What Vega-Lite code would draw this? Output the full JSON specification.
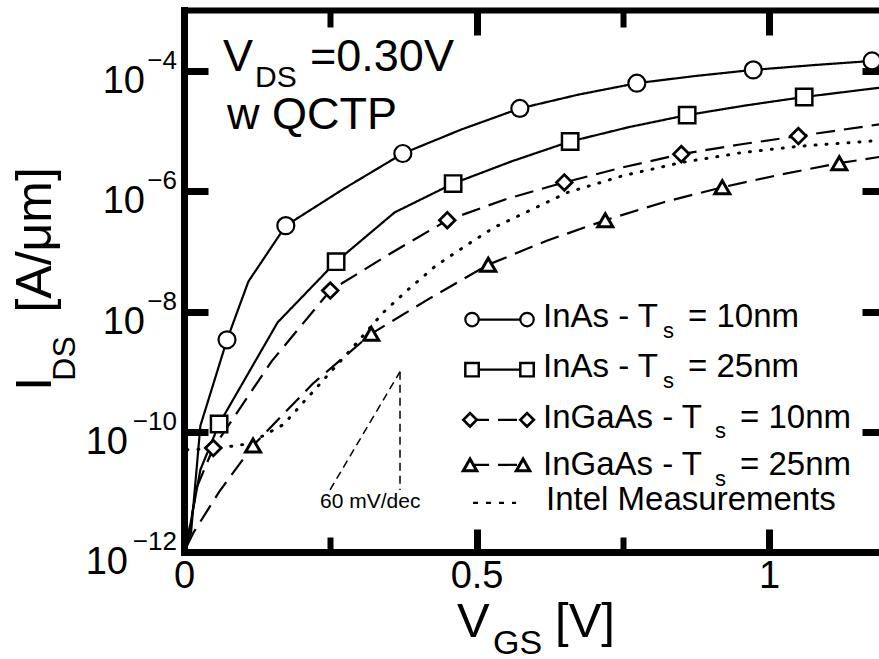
{
  "$schema": "https://vega.github.io/schema/vega-lite/v6.json",
  "width": 698,
  "height": 542,
  "autosize": {"type": "none"},
  "padding": {"left": 184, "top": 10, "right": 0, "bottom": 107},
  "background": "white",
  "config": {
    "view": {"stroke": null},
    "font": "Liberation Sans",
    "axis": {"domainColor": "black", "tickColor": "black", "labelColor": "black", "grid": false, "title": null, "domainCap": "square"}
  },
  "datasets": {
    "curves": [
      {"series": "InAs10", "v": 0.005, "I": 1.41e-12},
      {"series": "InAs10", "v": 0.012, "I": 2.1e-12},
      {"series": "InAs10", "v": 0.028, "I": 1.26e-10},
      {"series": "InAs10", "v": 0.0735, "I": 3.39e-9},
      {"series": "InAs10", "v": 0.11, "I": 3.16e-8},
      {"series": "InAs10", "v": 0.174, "I": 2.69e-7},
      {"series": "InAs10", "v": 0.274, "I": 1.12e-6},
      {"series": "InAs10", "v": 0.374, "I": 4.27e-6},
      {"series": "InAs10", "v": 0.474, "I": 1.07e-5},
      {"series": "InAs10", "v": 0.574, "I": 2.4e-5},
      {"series": "InAs10", "v": 0.674, "I": 4.07e-5},
      {"series": "InAs10", "v": 0.774, "I": 6.31e-5},
      {"series": "InAs10", "v": 0.874, "I": 8.32e-5},
      {"series": "InAs10", "v": 0.973, "I": 1.05e-4},
      {"series": "InAs10", "v": 1.075, "I": 1.26e-4},
      {"series": "InAs10", "v": 1.176, "I": 1.48e-4},
      {"series": "InAs10", "v": 1.193, "I": 1.51e-4},
      {"series": "InAs25", "v": 0.005, "I": 1.41e-12},
      {"series": "InAs25", "v": 0.028, "I": 2.34e-11},
      {"series": "InAs25", "v": 0.06, "I": 1.35e-10},
      {"series": "InAs25", "v": 0.16, "I": 6.61e-9},
      {"series": "InAs25", "v": 0.26, "I": 6.76e-8},
      {"series": "InAs25", "v": 0.36, "I": 4.47e-7},
      {"series": "InAs25", "v": 0.46, "I": 1.35e-6},
      {"series": "InAs25", "v": 0.56, "I": 3.16e-6},
      {"series": "InAs25", "v": 0.66, "I": 6.76e-6},
      {"series": "InAs25", "v": 0.76, "I": 1.17e-5},
      {"series": "InAs25", "v": 0.86, "I": 1.86e-5},
      {"series": "InAs25", "v": 0.96, "I": 2.69e-5},
      {"series": "InAs25", "v": 1.06, "I": 3.72e-5},
      {"series": "InAs25", "v": 1.193, "I": 5.37e-5},
      {"series": "InGaAs10", "v": 0.005, "I": 1.41e-12},
      {"series": "InGaAs10", "v": 0.022, "I": 1.2e-11},
      {"series": "InGaAs10", "v": 0.05, "I": 5.37e-11},
      {"series": "InGaAs10", "v": 0.15, "I": 1.5e-9},
      {"series": "InGaAs10", "v": 0.25, "I": 2.24e-8},
      {"series": "InGaAs10", "v": 0.35, "I": 8.91e-8},
      {"series": "InGaAs10", "v": 0.45, "I": 3.31e-7},
      {"series": "InGaAs10", "v": 0.55, "I": 7.41e-7},
      {"series": "InGaAs10", "v": 0.65, "I": 1.41e-6},
      {"series": "InGaAs10", "v": 0.75, "I": 2.51e-6},
      {"series": "InGaAs10", "v": 0.85, "I": 4.17e-6},
      {"series": "InGaAs10", "v": 0.95, "I": 6.03e-6},
      {"series": "InGaAs10", "v": 1.05, "I": 8.32e-6},
      {"series": "InGaAs10", "v": 1.193, "I": 1.32e-5},
      {"series": "InGaAs25", "v": 0.005, "I": 1.26e-12},
      {"series": "InGaAs25", "v": 0.016, "I": 2.09e-12},
      {"series": "InGaAs25", "v": 0.06, "I": 1.0e-11},
      {"series": "InGaAs25", "v": 0.118, "I": 5.89e-11},
      {"series": "InGaAs25", "v": 0.22, "I": 6.31e-10},
      {"series": "InGaAs25", "v": 0.32, "I": 4.27e-9},
      {"series": "InGaAs25", "v": 0.42, "I": 1.66e-8},
      {"series": "InGaAs25", "v": 0.52, "I": 6.03e-8},
      {"series": "InGaAs25", "v": 0.62, "I": 1.51e-7},
      {"series": "InGaAs25", "v": 0.72, "I": 3.31e-7},
      {"series": "InGaAs25", "v": 0.82, "I": 6.61e-7},
      {"series": "InGaAs25", "v": 0.92, "I": 1.17e-6},
      {"series": "InGaAs25", "v": 1.02, "I": 1.91e-6},
      {"series": "InGaAs25", "v": 1.12, "I": 2.95e-6},
      {"series": "InGaAs25", "v": 1.193, "I": 3.8e-6},
      {"series": "Intel", "v": 0.005, "I": 5.01e-11},
      {"series": "Intel", "v": 0.06, "I": 5.37e-11},
      {"series": "Intel", "v": 0.11, "I": 6.31e-11},
      {"series": "Intel", "v": 0.17, "I": 1.32e-10},
      {"series": "Intel", "v": 0.24, "I": 7.59e-10},
      {"series": "Intel", "v": 0.29, "I": 2.63e-9},
      {"series": "Intel", "v": 0.34, "I": 9.55e-9},
      {"series": "Intel", "v": 0.38, "I": 2.19e-8},
      {"series": "Intel", "v": 0.43, "I": 5.75e-8},
      {"series": "Intel", "v": 0.49, "I": 1.41e-7},
      {"series": "Intel", "v": 0.53, "I": 2.51e-7},
      {"series": "Intel", "v": 0.655, "I": 9.55e-7},
      {"series": "Intel", "v": 0.75, "I": 1.82e-6},
      {"series": "Intel", "v": 0.85, "I": 3.02e-6},
      {"series": "Intel", "v": 0.95, "I": 4.37e-6},
      {"series": "Intel", "v": 1.05, "I": 5.62e-6},
      {"series": "Intel", "v": 1.193, "I": 7.08e-6}
    ],
    "markers": [
      {"series": "InAs10", "v": 0.0735, "I": 3.39e-9},
      {"series": "InAs10", "v": 0.174, "I": 2.69e-7},
      {"series": "InAs10", "v": 0.374, "I": 4.27e-6},
      {"series": "InAs10", "v": 0.574, "I": 2.4e-5},
      {"series": "InAs10", "v": 0.774, "I": 6.31e-5},
      {"series": "InAs10", "v": 0.973, "I": 1.05e-4},
      {"series": "InAs10", "v": 1.176, "I": 1.48e-4},
      {"series": "InAs25", "v": 0.06, "I": 1.35e-10},
      {"series": "InAs25", "v": 0.26, "I": 6.76e-8},
      {"series": "InAs25", "v": 0.46, "I": 1.35e-6},
      {"series": "InAs25", "v": 0.66, "I": 6.76e-6},
      {"series": "InAs25", "v": 0.86, "I": 1.86e-5},
      {"series": "InAs25", "v": 1.06, "I": 3.72e-5},
      {"series": "InGaAs10", "v": 0.05, "I": 5.37e-11},
      {"series": "InGaAs10", "v": 0.25, "I": 2.24e-8},
      {"series": "InGaAs10", "v": 0.45, "I": 3.31e-7},
      {"series": "InGaAs10", "v": 0.65, "I": 1.41e-6},
      {"series": "InGaAs10", "v": 0.85, "I": 4.17e-6},
      {"series": "InGaAs10", "v": 1.05, "I": 8.32e-6},
      {"series": "InGaAs25", "v": 0.118, "I": 5.89e-11},
      {"series": "InGaAs25", "v": 0.32, "I": 4.27e-9},
      {"series": "InGaAs25", "v": 0.52, "I": 6.03e-8},
      {"series": "InGaAs25", "v": 0.72, "I": 3.31e-7},
      {"series": "InGaAs25", "v": 0.92, "I": 1.17e-6},
      {"series": "InGaAs25", "v": 1.12, "I": 2.95e-6}
    ],
    "legend": [
      {"series": "InAs10", "v": 0.4923, "I": 7.36e-9},
      {"series": "InAs10", "v": 0.5863, "I": 7.36e-9},
      {"series": "InAs25", "v": 0.4923, "I": 1.08e-9},
      {"series": "InAs25", "v": 0.5863, "I": 1.08e-9},
      {"series": "InGaAs10", "v": 0.4889, "I": 1.58e-10},
      {"series": "InGaAs10", "v": 0.5863, "I": 1.58e-10},
      {"series": "InGaAs25", "v": 0.4889, "I": 2.82e-11},
      {"series": "InGaAs25", "v": 0.5795, "I": 2.82e-11},
      {"series": "Intel", "v": 0.494, "I": 6.56e-12},
      {"series": "Intel", "v": 0.5675, "I": 6.56e-12}
    ],
    "texts": [
      {"kind": "big", "text": "V", "v": 0.0667, "I": 1e-4},
      {"kind": "bigsub", "text": "DS", "v": 0.1214, "I": 5.41e-5},
      {"kind": "big", "text": "=0.30V", "v": 0.2154, "I": 1e-4},
      {"kind": "big", "text": "w QCTP", "v": 0.0735, "I": 1.08e-5},
      {"kind": "leg", "text": "InAs - T", "v": 0.6137, "I": 5.62e-9},
      {"kind": "legsub", "text": "s", "v": 0.8188, "I": 3.69e-9},
      {"kind": "leg", "text": "= 10nm", "v": 0.8615, "I": 5.62e-9},
      {"kind": "leg", "text": "InAs - T", "v": 0.6137, "I": 8.26e-10},
      {"kind": "legsub", "text": "s", "v": 0.8188, "I": 5.41e-10},
      {"kind": "leg", "text": "= 25nm", "v": 0.8615, "I": 8.26e-10},
      {"kind": "leg", "text": "InGaAs - T", "v": 0.6137, "I": 1.17e-10},
      {"kind": "legsub", "text": "s", "v": 0.9077, "I": 7.94e-11},
      {"kind": "leg", "text": "= 10nm", "v": 0.9504, "I": 1.17e-10},
      {"kind": "leg", "text": "InGaAs - T", "v": 0.6137, "I": 1.92e-11},
      {"kind": "legsub", "text": "s", "v": 0.9077, "I": 1.26e-11},
      {"kind": "leg", "text": "= 25nm", "v": 0.9504, "I": 1.92e-11},
      {"kind": "leg", "text": "Intel Measurements", "v": 0.6188, "I": 5.01e-12},
      {"kind": "small", "text": "60 mV/dec", "v": 0.2325, "I": 5.41e-12},
      {"kind": "ytitle", "text": "I", "v": -0.2274, "I": 4.82e-10},
      {"kind": "ytitlesub", "text": "DS", "v": -0.1863, "I": 7.08e-10},
      {"kind": "ytitle", "text": "[A/μm]", "v": -0.2274, "I": 9.62e-9},
      {"kind": "xtitle", "text": "V", "v": 0.4667, "I": 3.83e-14},
      {"kind": "xtitlesub", "text": "GS", "v": 0.5282, "I": 2.0e-14},
      {"kind": "xtitle", "text": "[V]", "v": 0.6342, "I": 3.83e-14}
    ],
    "yticks": [
      {"I": 1e-4, "exp": "−4"},
      {"I": 1e-6, "exp": "−6"},
      {"I": 1e-8, "exp": "−8"},
      {"I": 1e-10, "exp": "−10"},
      {"I": 1e-12, "exp": "−12"}
    ],
    "guide": [
      {"v": 0.2496, "I": 1.08e-11, "v2": 0.3692, "I2": 1e-9},
      {"v": 0.3692, "I": 1e-9, "v2": 0.3692, "I2": 1.08e-11}
    ]
  },
  "resolve": {"axis": {"x": "independent", "y": "independent"}},
  "layer": [
    {
      "data": {"name": "curves"},
      "transform": [{"filter": "datum.series !== 'Intel'"}],
      "mark": {"type": "line", "color": "black", "strokeWidth": 2.2},
      "encoding": {
        "x": {"field": "v", "type": "quantitative", "scale": {"domain": [0, 1.193], "nice": false, "zero": false},
              "axis": {"orient": "bottom", "values": [0, 0.5, 1], "format": "~g", "tickSize": -23, "tickWidth": 7, "domainWidth": 7, "labelFontSize": 38, "labelPadding": 28, "labelFlush": false, "labelFont": "Liberation Sans"}},
        "y": {"field": "I", "type": "quantitative", "scale": {"type": "log", "domain": [1e-12, 1.042e-3], "nice": false},
              "axis": {"orient": "left", "values": [1e-12, 1e-10, 1e-8, 1e-6, 1e-4], "tickSize": -24, "tickWidth": 7, "domainWidth": 7, "labels": false}},
        "detail": {"field": "series"},
        "strokeDash": {"field": "series", "type": "nominal", "scale": {"domain": ["InAs10", "InAs25", "InGaAs10", "InGaAs25", "Intel"], "range": [[1, 0], [1, 0], [19, 9], [19, 9], [5, 8]]}, "legend": null}
      }
    },
    {
      "data": {"name": "curves"},
      "transform": [{"filter": "datum.series === 'Intel'"}],
      "mark": {"type": "line", "color": "black", "strokeWidth": 3, "strokeDash": [1, 10], "strokeCap": "round"},
      "encoding": {
        "x": {"field": "v", "type": "quantitative", "axis": {"orient": "top", "values": [0, 0.5, 1], "tickSize": -25, "tickWidth": 7, "domainWidth": 6, "labels": false}},
        "y": {"field": "I", "type": "quantitative", "axis": {"orient": "right", "values": [1e-12, 1e-10, 1e-8, 1e-6, 1e-4], "tickSize": -20, "tickWidth": 7, "domain": false, "labels": false}}
      }
    },
    {
      "data": {"name": "guide"},
      "mark": {"type": "rule", "color": "black", "strokeWidth": 1.5, "strokeDash": [8, 5]},
      "encoding": {
        "x": {"field": "v", "type": "quantitative", "axis": null},
        "y": {"field": "I", "type": "quantitative", "axis": null},
        "x2": {"field": "v2"},
        "y2": {"field": "I2"}
      }
    },
    {
      "data": {"name": "legend"},
      "mark": {"type": "line", "color": "black", "strokeWidth": 2.2},
      "encoding": {
        "x": {"field": "v", "type": "quantitative", "axis": {"orient": "bottom", "values": [0.25, 0.75], "tickSize": -15, "tickWidth": 6, "domain": false, "labels": false}},
        "y": {"field": "I", "type": "quantitative", "axis": null},
        "detail": {"field": "series"},
        "strokeDash": {"field": "series", "type": "nominal", "legend": null}
      }
    },
    {
      "data": {"name": "markers"},
      "mark": {"type": "point", "filled": true, "fill": "white", "stroke": "black", "opacity": 1},
      "encoding": {
        "x": {"field": "v", "type": "quantitative", "axis": {"orient": "top", "values": [0.25, 0.75], "tickSize": -17, "tickWidth": 6, "domain": false, "labels": false}},
        "y": {"field": "I", "type": "quantitative", "axis": null},
        "shape": {"field": "series", "type": "nominal", "scale": {"domain": ["InAs10", "InAs25", "InGaAs10", "InGaAs25"], "range": ["circle", "square", "diamond", "triangle-up"]}, "legend": null},
        "size": {"field": "series", "type": "nominal", "scale": {"domain": ["InAs10", "InAs25", "InGaAs10", "InGaAs25"], "range": [289, 225, 289, 330]}, "legend": null},
        "strokeWidth": {"field": "series", "type": "nominal", "scale": {"domain": ["InAs10", "InAs25", "InGaAs10", "InGaAs25"], "range": [2.2, 3, 2.2, 2.4]}, "legend": null}
      }
    },
    {
      "data": {"name": "legend"},
      "transform": [{"filter": "datum.series !== 'Intel'"}],
      "mark": {"type": "point", "filled": true, "fill": "white", "stroke": "black", "opacity": 1, "size": 180},
      "encoding": {
        "x": {"field": "v", "type": "quantitative", "axis": null},
        "y": {"field": "I", "type": "quantitative", "axis": null},
        "shape": {"field": "series", "type": "nominal", "legend": null},
        "strokeWidth": {"field": "series", "type": "nominal", "legend": null}
      }
    },
    {
      "data": {"name": "texts"},
      "transform": [{"filter": "datum.kind === 'big'"}],
      "mark": {"type": "text", "align": "left", "baseline": "alphabetic", "fontSize": 45, "color": "black"},
      "encoding": {"x": {"field": "v", "type": "quantitative", "axis": null}, "y": {"field": "I", "type": "quantitative", "axis": null}, "text": {"field": "text"}}
    },
    {
      "data": {"name": "texts"},
      "transform": [{"filter": "datum.kind === 'bigsub'"}],
      "mark": {"type": "text", "align": "left", "baseline": "alphabetic", "fontSize": 30, "color": "black"},
      "encoding": {"x": {"field": "v", "type": "quantitative", "axis": null}, "y": {"field": "I", "type": "quantitative", "axis": null}, "text": {"field": "text"}}
    },
    {
      "data": {"name": "texts"},
      "transform": [{"filter": "datum.kind === 'leg'"}],
      "mark": {"type": "text", "align": "left", "baseline": "alphabetic", "fontSize": 33, "color": "black"},
      "encoding": {"x": {"field": "v", "type": "quantitative", "axis": null}, "y": {"field": "I", "type": "quantitative", "axis": null}, "text": {"field": "text"}}
    },
    {
      "data": {"name": "texts"},
      "transform": [{"filter": "datum.kind === 'legsub'"}],
      "mark": {"type": "text", "align": "left", "baseline": "alphabetic", "fontSize": 22, "color": "black"},
      "encoding": {"x": {"field": "v", "type": "quantitative", "axis": null}, "y": {"field": "I", "type": "quantitative", "axis": null}, "text": {"field": "text"}}
    },
    {
      "data": {"name": "texts"},
      "transform": [{"filter": "datum.kind === 'small'"}],
      "mark": {"type": "text", "align": "left", "baseline": "alphabetic", "fontSize": 21, "color": "black"},
      "encoding": {"x": {"field": "v", "type": "quantitative", "axis": null}, "y": {"field": "I", "type": "quantitative", "axis": null}, "text": {"field": "text"}}
    },
    {
      "data": {"name": "texts"},
      "transform": [{"filter": "datum.kind === 'ytitle'"}],
      "mark": {"type": "text", "align": "left", "baseline": "alphabetic", "fontSize": 50, "angle": 270, "color": "black"},
      "encoding": {"x": {"field": "v", "type": "quantitative", "axis": null}, "y": {"field": "I", "type": "quantitative", "axis": null}, "text": {"field": "text"}}
    },
    {
      "data": {"name": "texts"},
      "transform": [{"filter": "datum.kind === 'ytitlesub'"}],
      "mark": {"type": "text", "align": "left", "baseline": "alphabetic", "fontSize": 32, "angle": 270, "color": "black"},
      "encoding": {"x": {"field": "v", "type": "quantitative", "axis": null}, "y": {"field": "I", "type": "quantitative", "axis": null}, "text": {"field": "text"}}
    },
    {
      "data": {"name": "texts"},
      "transform": [{"filter": "datum.kind === 'xtitle'"}],
      "mark": {"type": "text", "align": "left", "baseline": "alphabetic", "fontSize": 49, "color": "black"},
      "encoding": {"x": {"field": "v", "type": "quantitative", "axis": null}, "y": {"field": "I", "type": "quantitative", "axis": null}, "text": {"field": "text"}}
    },
    {
      "data": {"name": "texts"},
      "transform": [{"filter": "datum.kind === 'xtitlesub'"}],
      "mark": {"type": "text", "align": "left", "baseline": "alphabetic", "fontSize": 34, "color": "black"},
      "encoding": {"x": {"field": "v", "type": "quantitative", "axis": null}, "y": {"field": "I", "type": "quantitative", "axis": null}, "text": {"field": "text"}}
    },
    {
      "data": {"name": "yticks"},
      "transform": [{"filter": "datum.I > 1e-9"}],
      "mark": {"type": "text", "align": "right", "baseline": "alphabetic", "fontSize": 38, "dy": 22, "color": "black"},
      "encoding": {"x": {"datum": -0.0667, "type": "quantitative", "axis": null}, "y": {"field": "I", "type": "quantitative", "axis": null}, "text": {"value": "10"}}
    },
    {
      "data": {"name": "yticks"},
      "transform": [{"filter": "datum.I < 1e-9"}],
      "mark": {"type": "text", "align": "right", "baseline": "alphabetic", "fontSize": 38, "dy": 22, "color": "black"},
      "encoding": {"x": {"datum": -0.0957, "type": "quantitative", "axis": null}, "y": {"field": "I", "type": "quantitative", "axis": null}, "text": {"value": "10"}}
    },
    {
      "data": {"name": "yticks"},
      "mark": {"type": "text", "align": "right", "baseline": "alphabetic", "fontSize": 26, "dy": -2, "color": "black"},
      "encoding": {"x": {"datum": -0.012, "type": "quantitative", "axis": null}, "y": {"field": "I", "type": "quantitative", "axis": null}, "text": {"field": "exp"}}
    }
  ]
}
